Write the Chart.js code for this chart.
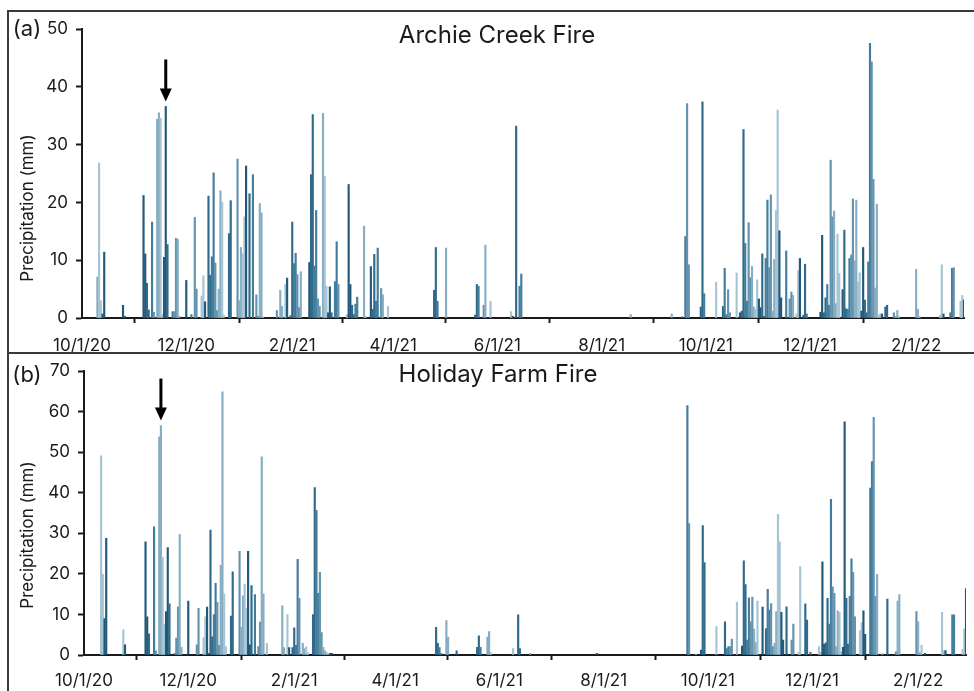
<!DOCTYPE html>
<html>
<head>
<meta charset="utf-8">
<script src="https://cdn.jsdelivr.net/npm/chart.js@4.4.1/dist/chart.umd.min.js"></script>
<style>
  body { margin: 0; background: #fff; }
  #wrap { position: relative; width: 974px; height: 691px; overflow: hidden;
          font-family: Inter, "Liberation Sans", sans-serif; color: #1a1a1a; }
  canvas { position: absolute; left: 0; }
  .line { position: absolute; background: #3a3a3a; }
  .txt { position: absolute; white-space: nowrap; transform: translate(-50%, -50%); }
</style>
</head>
<body>
<div id="wrap">
  <canvas id="archie" width="974" height="353" style="top:0"></canvas>
  <canvas id="holiday" width="974" height="338" style="top:353px"></canvas>

  <div class="line" style="left:7px;top:10px;width:967px;height:2px"></div>
  <div class="line" style="left:7px;top:10px;width:2px;height:681px"></div>
  <div class="line" style="left:7px;top:352px;width:967px;height:2px"></div>

  <div class="txt" style="left:27px;top:28px;font-size:22px">(a)</div>
  <div class="txt" style="left:27px;top:374px;font-size:22px">(b)</div>
  <div class="txt" style="left:497px;top:34px;font-size:24px">Archie Creek Fire</div>
  <div class="txt" style="left:498px;top:373px;font-size:24px">Holiday Farm Fire</div>
  <div class="txt" style="left:27px;top:208px;font-size:17px;transform:translate(-50%,-50%) rotate(-90deg)">Precipitation (mm)</div>
  <div class="txt" style="left:27px;top:535px;font-size:17px;transform:translate(-50%,-50%) rotate(-90deg)">Precipitation (mm)</div>
</div>

<script>
// day 0 = 10/1/20, axis runs to 3/1/22 (day 516)
const TICK_DAYS = [0, 61, 123, 182, 243, 304, 365, 426, 488];
const TICK_LABELS = ['10/1/20', '12/1/20', '2/1/21', '4/1/21', '6/1/21', '8/1/21', '10/1/21', '12/1/21', '2/1/22'];

// ---------- (a) Archie Creek Fire, daily precipitation (mm) ----------
const archieDays = [9,10,11,12,13,24,25,36,37,38,39,41,42,44,45,46,47,48,49,50,53,54,55,56,57,
  61,64,66,67,70,71,72,74,75,76,77,78,79,80,81,82,83,86,87,91,92,93,94,95,96,98,100,102,103,104,105,106,
  114,116,117,119,120,122,123,124,125,126,127,128,133,134,135,136,137,138,139,
  141,142,143,144,145,146,148,149,150,155,156,157,158,159,160,161,165,166,169,170,171,172,173,175,176,179,
  206,207,208,213,230,231,232,235,236,239,251,252,254,256,257,321,
  345,351,353,354,355,362,363,364,371,375,376,377,378,379,383,385,386,387,388,389,390,391,392,393,394,395,
  396,397,398,399,400,401,402,403,404,405,406,407,408,409,412,414,415,416,418,419,420,422,423,424,
  432,433,434,435,436,437,438,439,440,441,442,443,445,446,447,448,449,450,451,452,453,454,455,456,457,458,
  459,460,461,462,463,464,465,466,467,468,470,471,475,476,477,478,488,489,490,502,503,504,508,509,510,514,515,516];
const archieMm = [7.1,26.8,3.0,0.7,11.4,2.2,0.3,21.2,11.1,6.0,1.4,16.6,1.0,34.4,35.5,34.6,0.6,10.5,36.6,12.7,1.1,1.1,13.8,13.6,0.3,
  6.5,0.6,17.4,5.0,3.8,7.3,2.8,21.1,7.4,10.6,25.1,9.5,1.3,5.0,22.0,20.0,0.5,14.6,20.3,27.5,3.0,12.2,11.1,17.5,26.3,21.5,24.8,4.0,0.3,19.8,18.2,0.2,
  1.3,4.8,2.0,5.8,6.9,0.4,16.6,9.4,11.2,7.5,1.8,8.0,9.6,24.8,35.2,9.0,18.6,3.3,2.0,
  35.4,24.5,5.5,0.9,5.4,0.9,6.3,13.2,5.8,0.6,23.1,5.8,2.2,0.6,2.4,3.6,15.9,0.3,8.9,1.5,11.0,2.9,12.1,5.1,4.0,2.0,
  4.8,12.2,2.9,12.1,0.5,5.8,5.5,2.2,12.6,2.9,1.1,0.3,33.2,5.5,7.6,0.6,
  0.7,0.2,14.1,37.1,9.2,1.9,37.4,4.2,6.2,2.0,8.6,0.6,4.9,0.9,7.8,0.9,1.2,32.6,12.9,2.9,16.5,7.0,8.9,1.9,1.5,6.6,
  3.3,1.8,11.1,0.3,10.3,20.4,8.7,21.3,1.2,10.1,18.6,36.0,15.1,3.5,11.6,3.3,4.5,3.9,0.7,8.2,10.3,0.5,9.3,0.7,
  1.0,14.3,0.9,3.5,5.8,2.2,27.3,17.5,18.5,2.5,14.5,7.7,4.9,15.2,1.6,1.5,10.3,10.9,20.6,9.9,20.4,6.2,7.8,1.2,12.2,3.1,
  0.9,9.7,47.5,44.3,24.0,5.2,19.7,0.5,0.7,0.7,1.9,2.2,0.9,0.3,1.3,0.3,8.4,1.5,0.3,0.5,9.2,0.7,0.9,8.6,8.7,2.9,3.9,3.1];

// ---------- (b) Holiday Farm Fire, daily precipitation (mm) ----------
const holidayDays = [10,11,12,13,23,24,36,37,38,41,42,44,45,46,47,48,49,50,53,54,55,56,57,
  61,66,67,70,71,72,73,74,75,76,77,78,79,80,81,82,83,86,87,91,92,93,94,95,96,97,98,100,102,103,104,105,107,
  116,117,119,120,122,123,124,125,126,128,129,130,131,134,135,136,137,138,139,140,141,142,143,144,145,
  206,207,208,209,212,213,218,230,231,232,236,237,238,251,254,255,261,300,
  353,354,358,361,362,363,370,375,376,377,378,379,382,385,386,387,388,389,390,391,392,393,394,397,399,400,
  401,402,403,404,405,406,407,408,409,411,414,415,418,419,422,423,425,430,431,432,433,434,435,436,437,438,
  439,440,441,442,443,444,445,446,447,448,449,450,451,454,455,456,457,460,461,462,463,464,467,470,475,476,
  477,487,488,489,490,492,502,503,504,508,509,514,515,516];
const holidayMm = [49.1,19.9,9.0,28.8,6.2,2.5,27.9,9.4,5.2,31.6,1.0,53.8,56.6,24.1,7.6,10.7,26.5,12.6,0.4,4.2,11.9,29.7,1.9,
  13.3,2.5,11.5,4.3,9.4,11.8,0.4,30.8,4.5,10.0,17.7,13.0,2.4,22.1,64.9,15.1,2.1,9.6,20.5,25.6,6.8,14.6,17.5,11.6,25.6,2.5,17.1,14.9,2.1,8.1,48.9,15.1,2.9,
  12.1,1.8,10.0,1.8,1.8,6.7,2.4,23.6,14.0,2.9,1.6,2.0,0.6,10.0,41.3,35.7,15.2,20.4,5.5,1.9,1.0,0.6,0.4,0.4,0.4,
  6.8,2.9,1.8,0.4,8.5,4.4,1.0,1.9,4.7,1.9,4.4,5.8,0.6,1.6,9.9,1.6,0.4,0.4,
  61.5,32.4,0.2,1.2,31.9,22.8,7.0,8.2,1.6,2.1,2.1,3.9,13.0,2.2,23.2,17.4,3.7,14.1,8.2,14.3,6.4,3.1,13.3,11.8,6.5,16.2,
  11.1,12.7,2.1,2.9,10.7,34.7,27.9,10.5,3.7,11.9,3.7,7.6,0.7,21.8,12.6,8.6,0.7,2.1,0.7,23.0,2.7,3.0,14.0,7.6,38.4,16.8,
  15.2,2.1,10.9,10.5,0.8,1.9,57.5,14.0,2.7,14.5,23.7,20.4,9.4,6.0,8.0,10.9,5.1,41.2,47.7,58.6,14.5,19.9,0.4,13.8,0.8,13.3,
  14.9,10.7,8.2,0.6,2.4,0.4,10.5,1.1,1.1,9.9,9.9,1.4,6.4,16.4];

const ARROW_A = 49;   // day marked by arrow in (a)
const ARROW_B = 45;   // day marked by arrow in (b)

const SHADES = ['#22597a', '#2f6a8b', '#447d9c', '#6393ae', '#86adc2', '#a6c4d4'];
const shadeFor = (day) => SHADES[Math.floor(day / 2) % SHADES.length];

const INK = '#1a1a1a';
const FONT = 'Inter, "Liberation Sans", sans-serif';
Chart.defaults.font.family = FONT;
Chart.defaults.color = INK;
Chart.defaults.animation = false;

const arrowPlugin = {
  id: 'arrow',
  afterDatasetsDraw(chart, args, opts) {
    const { ctx, scales } = chart;
    const x = scales.x.getPixelForValue(opts.day);
    const tip = scales.y.getPixelForValue(opts.value) - 5;
    ctx.save();
    ctx.strokeStyle = '#000';
    ctx.fillStyle = '#000';
    ctx.lineWidth = 3;
    ctx.beginPath();
    ctx.moveTo(x, tip - 42);
    ctx.lineTo(x, tip - 11);
    ctx.stroke();
    ctx.beginPath();
    ctx.moveTo(x - 6, tip - 13);
    ctx.lineTo(x + 6, tip - 13);
    ctx.lineTo(x, tip);
    ctx.closePath();
    ctx.fill();
    ctx.restore();
  }
};

function makePanel(id, days, mm, yMax, arrowDay, padTop, padRight, yWidth, xHeight, xPad) {
  new Chart(document.getElementById(id), {
    type: 'bar',
    data: {
      datasets: [{
        data: days.map((d, i) => ({ x: d, y: mm[i] })),
        backgroundColor: (c) => shadeFor(c.raw ? c.raw.x : 0),
        barThickness: 1.5,
        borderWidth: 0,
      }]
    },
    options: {
      responsive: false,
      layout: { padding: { top: padTop, right: padRight, left: 0, bottom: 0 } },
      plugins: {
        legend: { display: false },
        tooltip: { enabled: false },
        arrow: { day: arrowDay, value: mm[days.indexOf(arrowDay)] },
      },
      scales: {
        x: {
          type: 'linear', min: 0, max: 516, offset: false,
          afterBuildTicks: (ax) => { ax.ticks = TICK_DAYS.map(v => ({ value: v })); },
          afterFit: (ax) => { ax.height = xHeight; },
          ticks: {
            autoSkip: false, maxRotation: 0, padding: xPad, color: INK, font: { size: 17 },
            callback: (v, i) => TICK_LABELS[i],
          },
          grid: { drawOnChartArea: false, drawTicks: true, tickLength: 5, tickWidth: 2, tickColor: INK },
          border: { display: true, color: INK, width: 2 },
        },
        y: {
          min: 0, max: yMax,
          afterFit: (ax) => { ax.width = yWidth; },
          ticks: { stepSize: 10, padding: 8, color: INK, font: { size: 17 } },
          grid: { drawOnChartArea: false, drawTicks: true, tickLength: 6, tickWidth: 2, tickColor: INK },
          border: { display: true, color: INK, width: 2 },
        },
      }
    },
    plugins: [arrowPlugin]
  });
}

makePanel('archie', archieDays, archieMm, 50, ARROW_A, 29, 10, 82, 35, 13);
makePanel('holiday', holidayDays, holidayMm, 70, ARROW_B, 18, 8, 84, 36, 11);
</script>
</body>
</html>
